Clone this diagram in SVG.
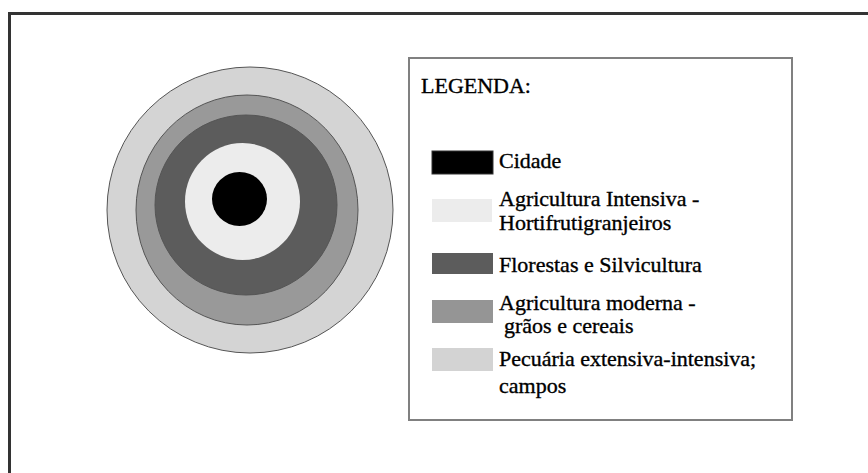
<svg xmlns="http://www.w3.org/2000/svg" width="868" height="473" viewBox="0 0 868 473">
<style>
.ring{stroke:#555;stroke-width:1}
.sw{stroke:none}
text{font-family:'Liberation Serif','DejaVu Serif',serif;font-size:22px;fill:#000;stroke:#000;stroke-width:0.35}
</style>
<rect x="0" y="0" width="868" height="473" fill="#fff"/>
<path d="M9.5 473 L9.5 13.5 L868 13.5" fill="none" stroke="#333" stroke-width="3"/>
<g id="zones">
<ellipse class="ring" cx="250" cy="210" rx="143" ry="143" fill="#d4d4d4" stroke="#777"/>
<ellipse class="ring" cx="247" cy="210" rx="111" ry="115" fill="#999999"/>
<ellipse class="ring" cx="246" cy="205" rx="91" ry="90" fill="#5c5c5c" stroke="#333"/>
<ellipse cx="242.5" cy="201.5" rx="57.5" ry="58.5" fill="#ececec"/>
<ellipse cx="239.5" cy="199" rx="27.5" ry="27" fill="#000"/>
</g>
<g id="legend">
<rect x="409" y="58" width="383" height="362" fill="#fff" stroke="#808080" stroke-width="2"/>
<text font-family="Liberation Serif, serif" x="421" y="93">LEGENDA:</text>
<rect x="432" y="151" width="61" height="23" fill="#000" stroke="#333" stroke-width="1"/>
<text font-family="Liberation Serif, serif" x="499" y="168">Cidade</text>
<rect class="sw" x="432" y="199" width="60" height="23" fill="#ececec"/>
<text font-family="Liberation Serif, serif" x="499" y="206">Agricultura Intensiva -</text>
<text font-family="Liberation Serif, serif" x="499" y="230">Hortifrutigranjeiros</text>
<rect class="sw" x="432" y="253" width="61" height="21" fill="#5c5c5c"/>
<text font-family="Liberation Serif, serif" x="499" y="272">Florestas e Silvicultura</text>
<rect class="sw" x="432" y="300" width="61" height="23" fill="#959595"/>
<text font-family="Liberation Serif, serif" x="499" y="310">Agricultura moderna -</text>
<text font-family="Liberation Serif, serif" x="504" y="333">grãos e cereais</text>
<rect class="sw" x="432" y="348" width="61" height="23" fill="#d3d3d3"/>
<text font-family="Liberation Serif, serif" x="499" y="366">Pecuária extensiva-intensiva;</text>
<text font-family="Liberation Serif, serif" x="499" y="393">campos</text>
</g>
</svg>
